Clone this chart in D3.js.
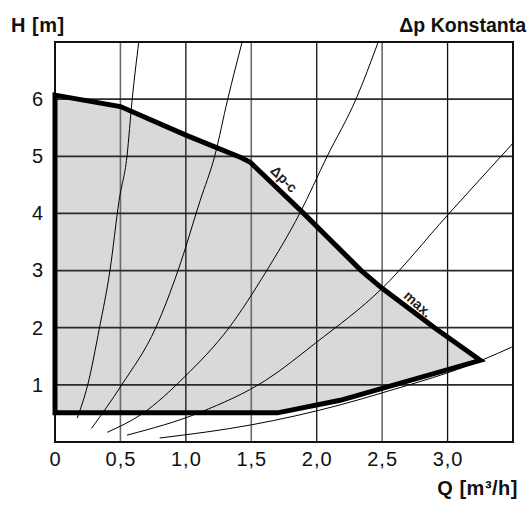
<!DOCTYPE html>
<html>
<head>
<meta charset="utf-8">
<script src="https://cdn.jsdelivr.net/npm/d3@7"></script>
<style>
  body { margin: 0; background: #fff; }
  text { font-family: "Liberation Sans", Arial, sans-serif; fill: #111; }
</style>
</head>
<body>
<script>
// chart size and plot box
var width = 532
var height = 505
var margin = { top: 42, left: 55, right: 19, bottom: 63 }

// axis ticks
var xTicks = [0, 0.5, 1.0, 1.5, 2.0, 2.5, 3.0]
var xTickLabels = ["0", "0,5", "1,0", "1,5", "2,0", "2,5", "3,0"]
var yTicks = [1, 2, 3, 4, 5, 6]
var yTickLabels = ["1", "2", "3", "4", "5", "6"]

// operating field of the pump: upper curve (Δp-c / max.) and lower limit
var topCurve = [
    [0, 6.07], [0.5, 5.87], [1.0, 5.37], [1.42, 4.98], [1.49, 4.9],
    [1.9, 4.0], [2.34, 3.0], [2.5, 2.69], [2.9, 2.0], [3.25, 1.43]
]
var bottomCurve = [
    [3.25, 1.43], [2.5, 0.94], [2.18, 0.73], [1.7, 0.51], [0, 0.51]
]

// thin system curves
var sysCurve1 = [[0.17, 0.42], [0.25, 1.0], [0.34, 2.0], [0.42, 3.0], [0.49, 4.23], [0.55, 5.0], [0.59, 6.0], [0.64, 7.0]]
var sysCurve2 = [[0.28, 0.24], [0.51, 1.0], [0.77, 2.0], [0.94, 3.0], [1.11, 4.23], [1.22, 5.0], [1.32, 6.0], [1.43, 7.0]]
var sysCurve3 = [[0.40, 0.17], [0.67, 0.5], [0.99, 1.14], [1.33, 2.0], [1.61, 2.97], [1.87, 4.0], [2.08, 5.0], [2.30, 6.0], [2.47, 7.0]]
var sysCurve4 = [[0.55, 0.12], [1.11, 0.52], [1.61, 1.08], [1.99, 1.73], [2.5, 2.69], [3.0, 3.97], [3.5, 5.23]]
var sysCurve5 = [[0.80, 0.07], [1.5, 0.30], [2.18, 0.65], [2.5, 0.86], [3.27, 1.44], [3.49, 1.66]]
var sysCurves = [sysCurve1, sysCurve2, sysCurve3, sysCurve4, sysCurve5]

var xScale = d3.scaleLinear()
    .domain([0, 3.5])
    .range([margin.left, width - margin.right])

var yScale = d3.scaleLinear()
    .domain([0, 7])
    .range([height - margin.bottom, margin.top])

var svg = d3.select("body").append("svg")
    .attr("width", width)
    .attr("height", height)

var line = d3.line()
    .x(function (d) { return xScale(d[0]) })
    .y(function (d) { return yScale(d[1]) })

function renderField() {
    var field = topCurve.concat(bottomCurve.slice(1))
    svg.append("path")
        .datum(field)
        .attr("d", function (d) { return line(d) + "Z" })
        .style("fill", "#d9d9d9")
        .style("stroke", "none")
}

function renderGrid() {
    // vertical lines: whole numbers black, halves grey
    svg.append("g").selectAll("line")
        .data(xTicks.slice(1))
        .enter()
        .append("line")
        .attr("x1", (d) => xScale(d))
        .attr("x2", (d) => xScale(d))
        .attr("y1", yScale(0))
        .attr("y2", yScale(7))
        .style("stroke", (d) => d % 1 === 0 ? "#111" : "#6a6a6a")
        .style("stroke-width", (d) => d % 1 === 0 ? 1.3 : 1.6)

    svg.append("g").selectAll("line")
        .data(yTicks)
        .enter()
        .append("line")
        .attr("x1", xScale(0))
        .attr("x2", xScale(3.5))
        .attr("y1", (d) => yScale(d))
        .attr("y2", (d) => yScale(d))
        .style("stroke", "#2a2a2a")
        .style("stroke-width", 1.7)

    // frame
    svg.append("rect")
        .attr("x", xScale(0))
        .attr("y", yScale(7))
        .attr("width", xScale(3.5) - xScale(0))
        .attr("height", yScale(0) - yScale(7))
        .style("fill", "none")
        .style("stroke", "#111")
        .style("stroke-width", 2)
}

function renderSystemCurves() {
    svg.append("g").selectAll("path")
        .data(sysCurves)
        .enter()
        .append("path")
        .attr("d", d3.line()
            .x(function (d) { return xScale(d[0]) })
            .y(function (d) { return yScale(d[1]) })
            .curve(d3.curveMonotoneX))
        .style("fill", "none")
        .style("stroke", "#000")
        .style("stroke-width", 1)
}

function renderOutline() {
    var field = topCurve.concat(bottomCurve.slice(1))
    svg.append("path")
        .datum(field)
        .attr("d", function (d) { return line(d) + "Z" })
        .style("fill", "none")
        .style("stroke", "#000")
        .style("stroke-width", 5)
        .style("stroke-linejoin", "miter")
        .style("stroke-miterlimit", 8)
}

function renderAxes() {
    var xAxis = d3.axisBottom(xScale)
        .tickValues(xTicks)
        .tickFormat((d, i) => xTickLabels[i])
        .tickSize(0)
        .tickPadding(10)

    svg.append("g")
        .attr("class", "x-axis")
        .attr("transform", "translate(0," + yScale(0) + ")")
        .call(xAxis)
        .call((g) => g.select(".domain").remove())
        .selectAll("text")
        .style("font-size", "20px")
        .style("letter-spacing", "1px")
        .style("font-family", "'Liberation Sans', Arial, sans-serif")
        .style("fill", "#111")

    var yAxis = d3.axisLeft(yScale)
        .tickValues(yTicks)
        .tickFormat((d, i) => yTickLabels[i])
        .tickSize(0)
        .tickPadding(12)

    svg.append("g")
        .attr("class", "y-axis")
        .attr("transform", "translate(" + xScale(0) + ",0)")
        .call(yAxis)
        .call((g) => g.select(".domain").remove())
        .selectAll("text")
        .style("font-size", "20px")
        .style("font-family", "'Liberation Sans', Arial, sans-serif")
        .style("fill", "#111")
}

function renderLabels() {
    svg.append("text")
        .attr("x", 11)
        .attr("y", 32)
        .style("font-size", "20px")
        .style("font-weight", "bold")
        .style("letter-spacing", "0.5px")
        .text("H [m]")

    svg.append("text")
        .attr("x", 526)
        .attr("y", 32)
        .attr("text-anchor", "end")
        .style("font-size", "19.5px")
        .style("font-weight", "bold")
        .text("Δp Konstanta")

    svg.append("text")
        .attr("x", 518)
        .attr("y", 495)
        .attr("text-anchor", "end")
        .style("font-size", "20px")
        .style("font-weight", "bold")
        .style("letter-spacing", "0.5px")
        .text("Q [m³/h]")

    svg.append("text")
        .attr("transform", "translate(284,179) rotate(45)")
        .attr("text-anchor", "middle")
        .attr("dy", "0.35em")
        .style("font-size", "14px")
        .style("font-weight", "bold")
        .style("fill", "#222")
        .text("Δp-c")

    svg.append("text")
        .attr("transform", "translate(418,304) rotate(42)")
        .attr("text-anchor", "middle")
        .attr("dy", "0.35em")
        .style("font-size", "14px")
        .style("font-weight", "bold")
        .style("fill", "#222")
        .text("max.")
}

renderField()
renderGrid()
renderSystemCurves()
renderOutline()
renderAxes()
renderLabels()
</script>
</body>
</html>
